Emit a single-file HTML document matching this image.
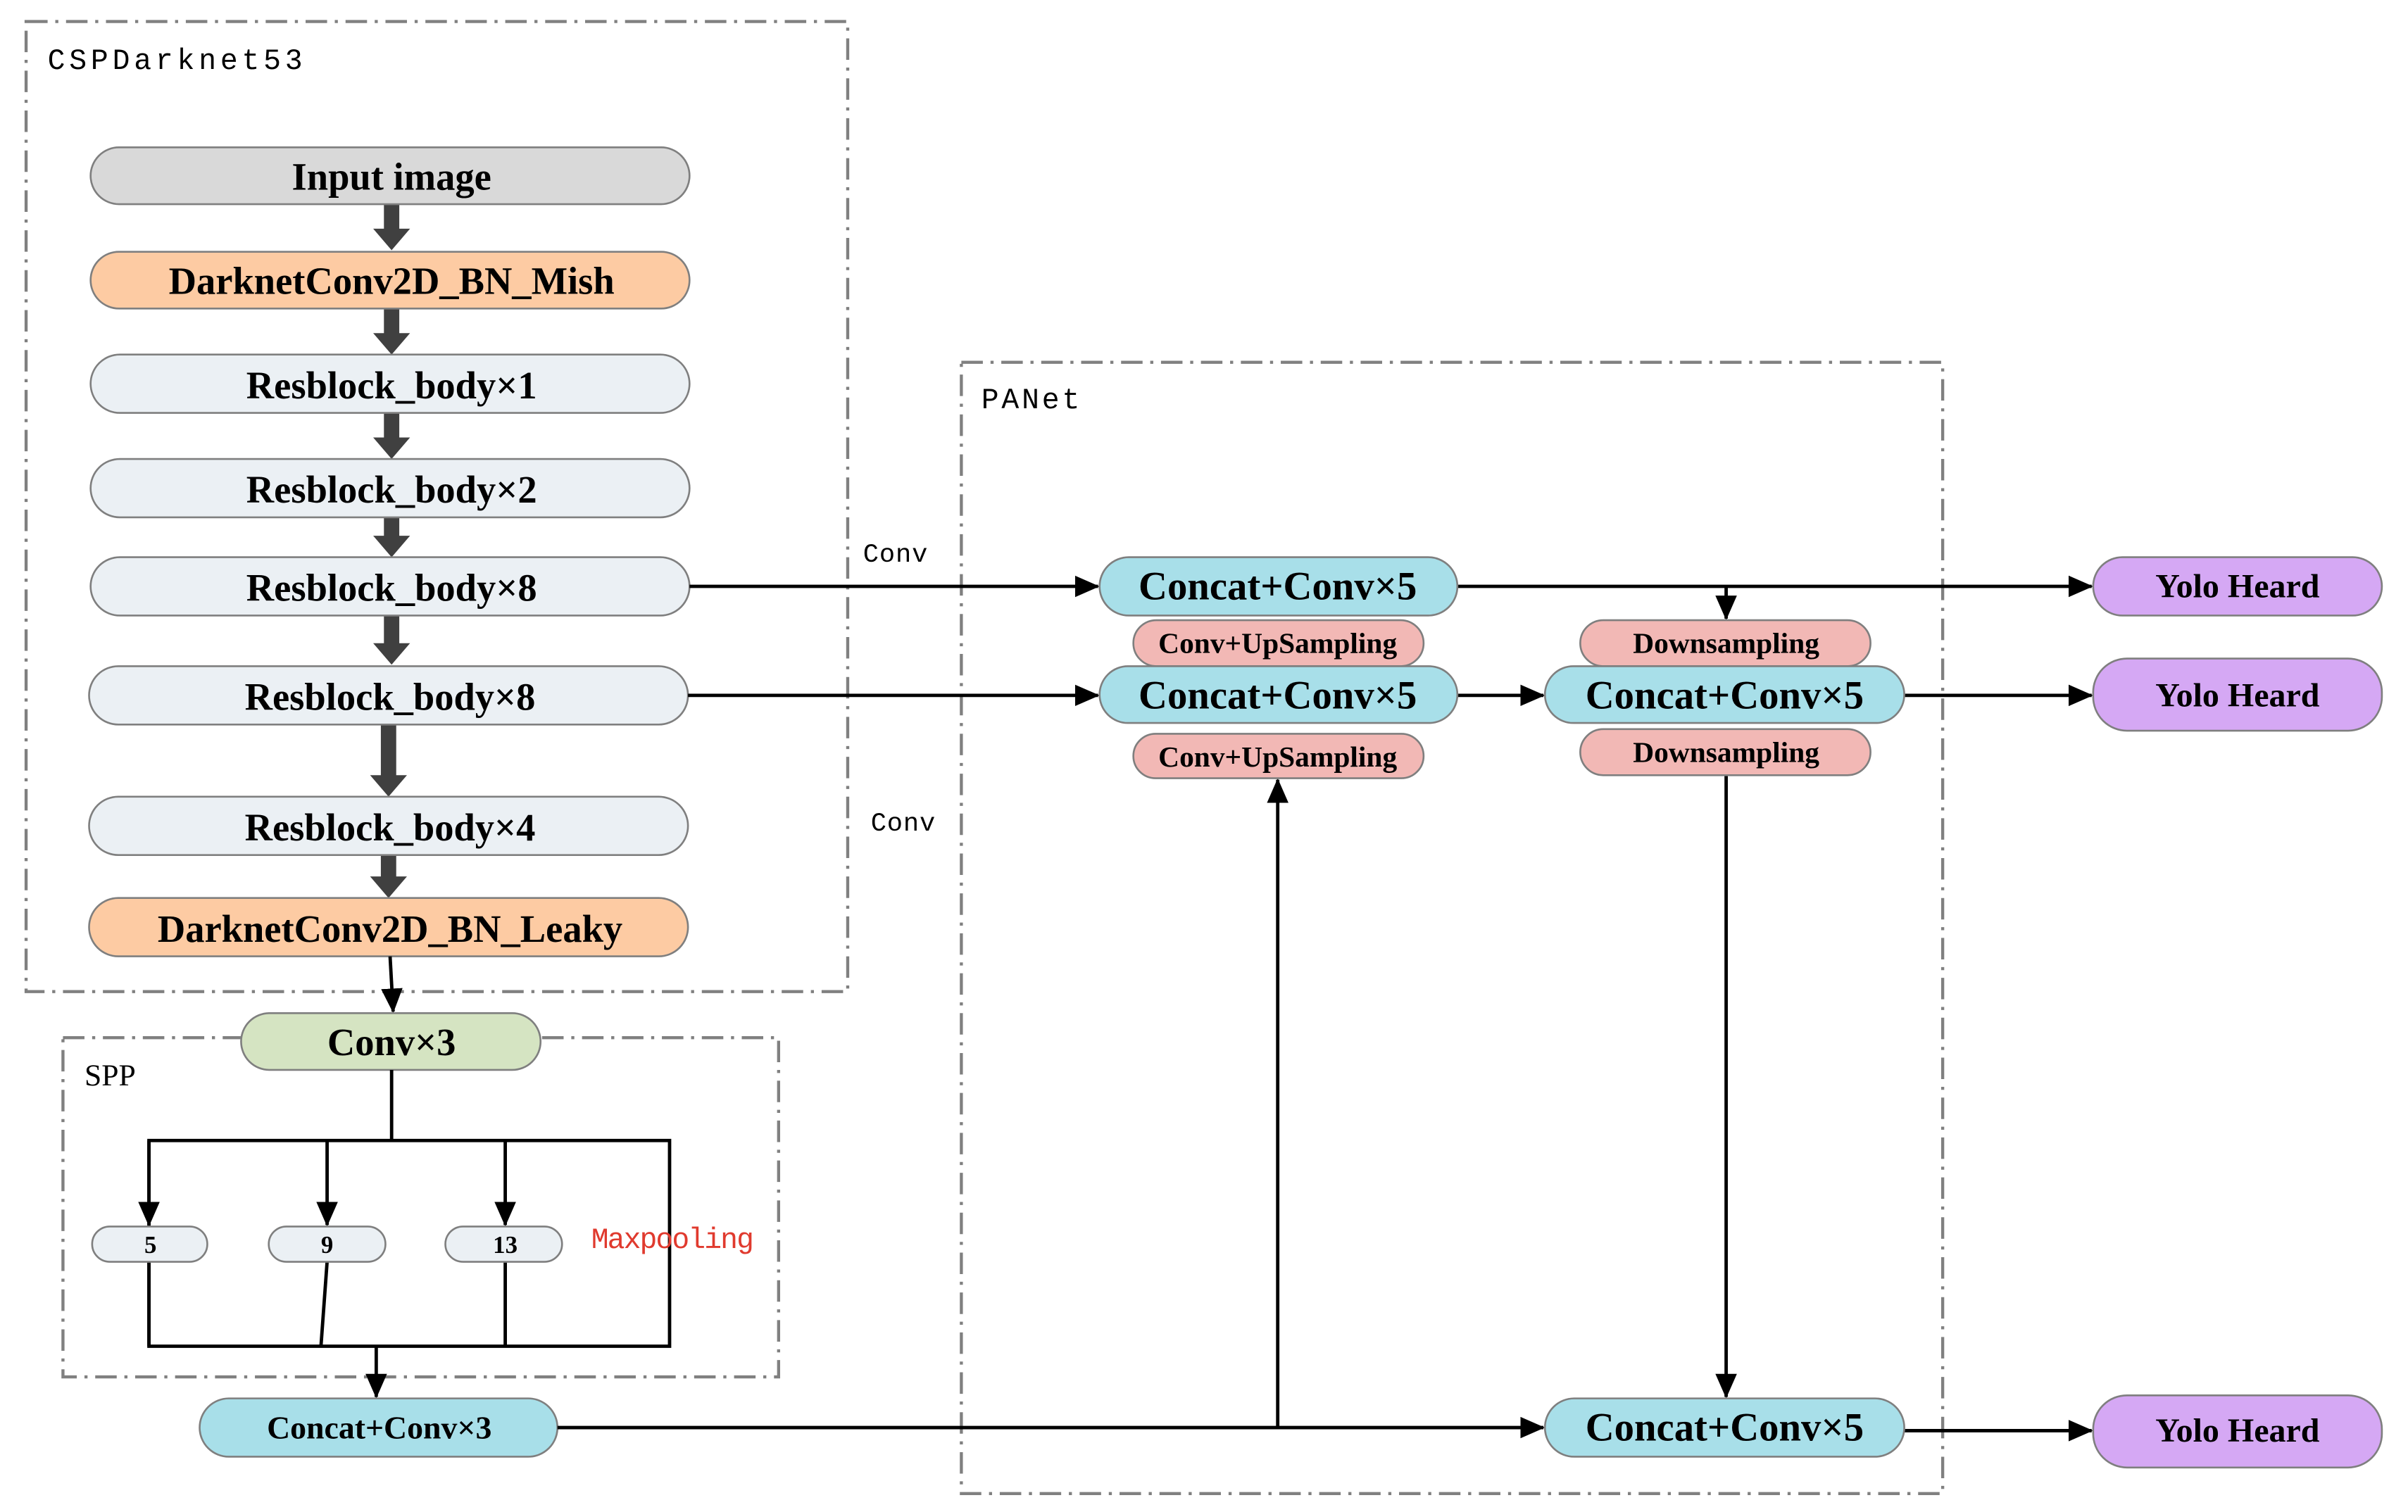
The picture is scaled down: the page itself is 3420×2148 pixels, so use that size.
<!DOCTYPE html>
<html><head><meta charset="utf-8"><style>
html,body{margin:0;padding:0;background:#fff;width:3420px;height:2148px;overflow:hidden}
svg{display:block}
.t{font-family:"Liberation Serif",serif;font-weight:bold;text-anchor:middle;dominant-baseline:central;fill:#000}
.m{font-family:"Liberation Mono",monospace;fill:#000}
.b{stroke:#7f7f7f;stroke-width:1.2}
.d{fill:none;stroke:#808080;stroke-width:2;stroke-dasharray:14 5 2 5}
.l{stroke:#000;stroke-width:2.2;fill:none}
</style></head><body>
<svg width="3420" height="2148" viewBox="0 0 1568 985" preserveAspectRatio="none" xmlns="http://www.w3.org/2000/svg">
<defs>
<marker id="s" markerWidth="16" markerHeight="16" refX="15" refY="8" orient="auto" markerUnits="userSpaceOnUse" viewBox="0 0 16 16"><path d="M0,1 L16,8 L0,15z" fill="#000"/></marker>
</defs>
<rect class="d" x="17" y="14" width="535" height="632"/>
<text class="m" x="31" y="45" font-size="19" textLength="166">CSPDarknet53</text>
<rect class="d" x="41" y="676" width="466" height="221"/>
<text x="55" y="707" font-size="20" font-family="Liberation Serif,serif">SPP</text>
<rect class="d" x="626" y="236" width="639" height="737"/>
<text class="m" x="639" y="266" font-size="19" textLength="64">PANet</text>
<text class="m" x="562" y="366" font-size="17" textLength="42">Conv</text>
<text class="m" x="567" y="541" font-size="17" textLength="42">Conv</text>

<g fill="#404040">
<path d="M250,133h10v16h7l-12,14l-12,-14h7z"/>
<path d="M250,201h10v16h7l-12,14l-12,-14h7z"/>
<path d="M250,269h10v16h7l-12,14l-12,-14h7z"/>
<path d="M250,337h10v12h7l-12,14l-12,-14h7z"/>
<path d="M250,401h10v18h7l-12,14l-12,-14h7z"/>
<path d="M248,472h10v33h7l-12,14l-12,-14h7z"/>
<path d="M248,557h10v14h7l-12,14l-12,-14h7z"/>
</g>

<g class="b">
<rect x="59" y="96" width="390" height="37" rx="18.5" fill="#d9d9d9"/>
<rect x="59" y="164" width="390" height="37" rx="18.5" fill="#fdcba3"/>
<rect x="59" y="231" width="390" height="38" rx="19" fill="#ebf0f4"/>
<rect x="59" y="299" width="390" height="38" rx="19" fill="#ebf0f4"/>
<rect x="59" y="363" width="390" height="38" rx="19" fill="#ebf0f4"/>
<rect x="58" y="434" width="390" height="38" rx="19" fill="#ebf0f4"/>
<rect x="58" y="519" width="390" height="38" rx="19" fill="#ebf0f4"/>
<rect x="58" y="585" width="390" height="38" rx="19" fill="#fdcba3"/>
</g>
<g class="t" font-size="25">
<text x="255" y="115">Input image</text>
<text x="255" y="183">DarknetConv2D_BN_Mish</text>
<text x="255" y="251">Resblock_body×1</text>
<text x="255" y="319">Resblock_body×2</text>
<text x="255" y="383">Resblock_body×8</text>
<text x="254" y="454">Resblock_body×8</text>
<text x="254" y="539">Resblock_body×4</text>
<text x="254" y="605">DarknetConv2D_BN_Leaky</text>
</g>

<path class="l" d="M254,623 L256,659" marker-end="url(#s)"/>
<rect class="b" x="157" y="660" width="195" height="37" rx="18.5" fill="#d5e4c2"/>
<text class="t" x="255" y="679" font-size="25">Conv×3</text>
<path class="l" d="M255,697V743M97,743H436V877H97z"/>
<path class="l" d="M97,743V798" marker-end="url(#s)"/>
<path class="l" d="M213,743V798" marker-end="url(#s)"/>
<path class="l" d="M329,743V798" marker-end="url(#s)"/>
<path class="l" d="M97,822V877M213,822L209,877M329,822V877"/>
<path class="l" d="M245,877V910" marker-end="url(#s)"/>
<g class="b" fill="#ebf0f4">
<rect x="60" y="799" width="75" height="23" rx="11.5"/>
<rect x="175" y="799" width="76" height="23" rx="11.5"/>
<rect x="290" y="799" width="76" height="23" rx="11.5"/>
</g>
<g class="t" font-size="16">
<text x="98" y="811">5</text><text x="213" y="811">9</text><text x="329" y="811">13</text>
</g>
<text class="m" x="385" y="813" font-size="19" textLength="106" style="fill:#e03a2e">Maxpooling</text>

<rect class="b" x="130" y="911" width="233" height="38" rx="19" fill="#a8dfe9"/>
<text class="t" x="247" y="930" font-size="21">Concat+Conv×3</text>

<path class="l" d="M449,382H715" marker-end="url(#s)"/>
<path class="l" d="M448,453H715" marker-end="url(#s)"/>
<path class="l" d="M949,382H1362" marker-end="url(#s)"/>
<path class="l" d="M1124,382V403" marker-end="url(#s)"/>
<path class="l" d="M949,453H1005" marker-end="url(#s)"/>
<path class="l" d="M1240,453H1362" marker-end="url(#s)"/>
<path class="l" d="M1124,505V910" marker-end="url(#s)"/>
<path class="l" d="M363,930H1005" marker-end="url(#s)"/>
<path class="l" d="M832,930V508" marker-end="url(#s)"/>
<path class="l" d="M1240,932H1362" marker-end="url(#s)"/>

<g class="b">
<rect x="716" y="363" width="233" height="38" rx="19" fill="#a8dfe9"/>
<rect x="738" y="404" width="189" height="30" rx="15" fill="#f2b8b5"/>
<rect x="716" y="434" width="233" height="37" rx="18.5" fill="#a8dfe9"/>
<rect x="738" y="478" width="189" height="29" rx="14.5" fill="#f2b8b5"/>
<rect x="1029" y="404" width="189" height="30" rx="15" fill="#f2b8b5"/>
<rect x="1006" y="434" width="234" height="37" rx="18.5" fill="#a8dfe9"/>
<rect x="1029" y="475" width="189" height="30" rx="15" fill="#f2b8b5"/>
<rect x="1006" y="911" width="234" height="38" rx="19" fill="#a8dfe9"/>
<rect x="1363" y="363" width="188" height="38" rx="19" fill="#d5a8f4"/>
<rect x="1363" y="429" width="188" height="47" rx="22" fill="#d5a8f4"/>
<rect x="1363" y="909" width="188" height="47" rx="22" fill="#d5a8f4"/>
</g>
<g class="t">
<text x="832" y="382" font-size="26">Concat+Conv×5</text>
<text x="832" y="419" font-size="19">Conv+UpSampling</text>
<text x="832" y="453" font-size="26">Concat+Conv×5</text>
<text x="832" y="493" font-size="19">Conv+UpSampling</text>
<text x="1124" y="419" font-size="19">Downsampling</text>
<text x="1123" y="453" font-size="26">Concat+Conv×5</text>
<text x="1124" y="490" font-size="19">Downsampling</text>
<text x="1123" y="930" font-size="26">Concat+Conv×5</text>
<text x="1457" y="382" font-size="22">Yolo Heard</text>
<text x="1457" y="453" font-size="22">Yolo Heard</text>
<text x="1457" y="932" font-size="22">Yolo Heard</text>
</g>
</svg>
</body></html>
